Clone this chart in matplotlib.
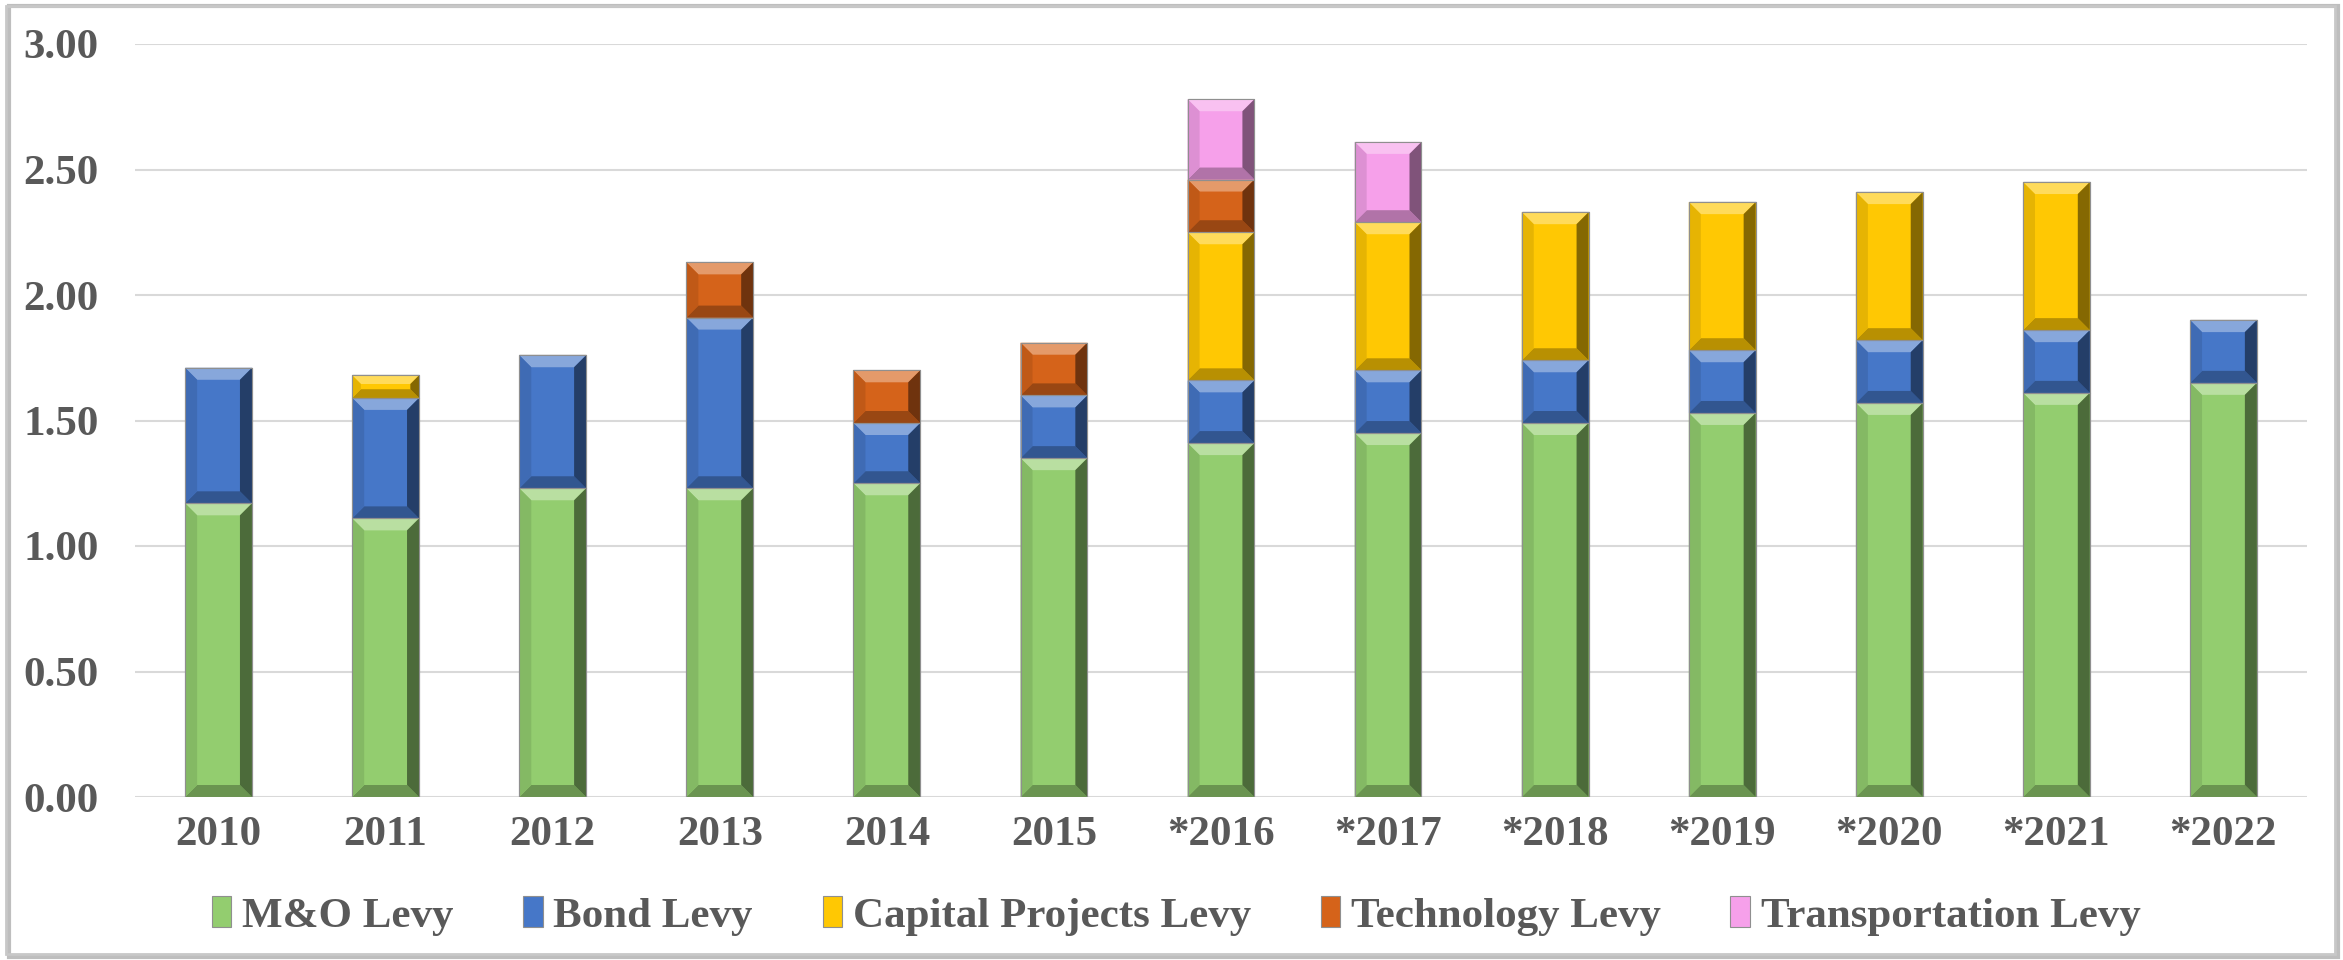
import matplotlib
matplotlib.use("Agg")
import matplotlib.pyplot as plt
import numpy as np
from matplotlib.patches import Polygon, Rectangle
from matplotlib.transforms import IdentityTransform
from matplotlib.colors import to_rgb

years = ["2010", "2011", "2012", "2013", "2014", "2015", "*2016", "*2017",
         "*2018", "*2019", "*2020", "*2021", "*2022"]
mo_levy = [1.17, 1.11, 1.23, 1.23, 1.25, 1.35, 1.41, 1.45, 1.49, 1.53, 1.57, 1.61, 1.65]
bond_levy = [0.54, 0.48, 0.53, 0.68, 0.24, 0.25, 0.25, 0.25, 0.25, 0.25, 0.25, 0.25, 0.25]
capital_levy = [0, 0.09, 0, 0, 0, 0, 0.59, 0.59, 0.59, 0.59, 0.59, 0.59, 0]
tech_levy = [0, 0, 0, 0.22, 0.21, 0.21, 0.21, 0, 0, 0, 0, 0, 0]
transport_levy = [0, 0, 0, 0, 0, 0, 0.32, 0.32, 0, 0, 0, 0, 0]
series_names = ["M&O Levy", "Bond Levy", "Capital Projects Levy",
                "Technology Levy", "Transportation Levy"]
yticks = [0.0, 0.5, 1.0, 1.5, 2.0, 2.5, 3.0]

colors = ["#93CD6F", "#4677C8", "#FFC803", "#D5631A", "#F6A0EA"]
series = [mo_levy, bond_levy, capital_levy, tech_levy, transport_levy]

W, H, DPI = 2343, 960, 100
fig = plt.figure(figsize=(W / DPI, H / DPI), dpi=DPI)
ax = fig.add_axes([135 / W, 1 - 797 / H, (2307 - 135) / W, (797 - 44) / H])

x = np.arange(len(years))
bottom = np.zeros(len(years))
containers = []
for vals, col, name in zip(series, colors, series_names):
    v = np.array(vals, dtype=float)
    bc = ax.bar(x, v, width=0.40, bottom=bottom, color=col, edgecolor="#8F8F8F",
                linewidth=0.8, label=name, zorder=3)
    containers.append((bc, v, col))
    bottom = bottom + v

ax.set_xlim(-0.5, len(years) - 0.5)
ax.set_ylim(0, 3.0)
ax.set_yticks(yticks)
ax.set_yticklabels([f"{t:.2f}" for t in yticks])
ax.set_xticks(x)
ax.set_xticklabels(years)
for s in ax.spines.values():
    s.set_visible(False)
ax.grid(axis="y", color="#D9D9D9", linewidth=1.5, zorder=0)
ax.set_axisbelow(True)
ax.tick_params(axis="both", length=0, colors="#595959", labelsize=31)
ax.tick_params(axis="y", pad=26)
ax.tick_params(axis="x", pad=14)
for lab in ax.get_xticklabels() + ax.get_yticklabels():
    lab.set_fontfamily("Liberation Serif")
    lab.set_fontweight("bold")
    lab.set_color("#595959")


def mix(c, t, f):
    c = np.array(to_rgb(c)); t = np.array(to_rgb(t))
    return tuple(c * (1 - f) + t * f)


# bevel decoration derived from each bar's own geometry
for bc, v, col in containers:
    for patch, val in zip(bc.patches, v):
        if val <= 0:
            continue
        x0, y0 = patch.get_x(), patch.get_y()
        w, h = patch.get_width(), patch.get_height()
        px0, py0 = ax.transData.transform((x0, y0))
        px1, py1 = ax.transData.transform((x0 + w, y0 + h))
        b = min(12.0, (py1 - py0) / 2.6)
        polys = [
            ([(px0, py1), (px1, py1), (px1 - b, py1 - b), (px0 + b, py1 - b)], mix(col, "white", 0.35)),
            ([(px0, py0), (px1, py0), (px1 - b, py0 + b), (px0 + b, py0 + b)], mix(col, "black", 0.28)),
            ([(px0, py0), (px0 + b, py0 + b), (px0 + b, py1 - b), (px0, py1)], mix(col, "black", 0.10)),
            ([(px1, py0), (px1 - b, py0 + b), (px1 - b, py1 - b), (px1, py1)], mix(col, "black", 0.48)),
        ]
        for pts, c in polys:
            ax.add_patch(Polygon(pts, closed=True, facecolor=c, edgecolor="none",
                                 transform=IdentityTransform(), zorder=4))
        ax.add_patch(Polygon([(px0, py0), (px1, py0), (px1, py1), (px0, py1)], closed=True,
                             facecolor="none", edgecolor="#8F8F8F", linewidth=0.8,
                             transform=IdentityTransform(), zorder=5))

handles = [c[0] for c in containers]
leg = fig.legend(handles, series_names, loc="center", bbox_to_anchor=(0.502, 1 - 916 / H),
                 ncol=5, frameon=False, handlelength=0.45, handleheight=0.7,
                 handletextpad=0.25, columnspacing=1.62,
                 prop={"family": "Liberation Serif", "weight": "bold", "size": 31})
for t in leg.get_texts():
    t.set_color("#595959")

# outer chart frame with slight shadow
fig.patches.append(Rectangle((9 / W, 3 / H), (W - 14) / W, (H - 9) / H, transform=fig.transFigure,
                             facecolor="none", edgecolor="#7F7F7F", linewidth=3, alpha=0.5, zorder=0))
fig.patches.append(Rectangle((6 / W, 6 / H), (W - 14) / W, (H - 12) / H, transform=fig.transFigure,
                             facecolor="none", edgecolor="#C8C8C8", linewidth=2, zorder=1))

fig.savefig("out.png", dpi=DPI)
